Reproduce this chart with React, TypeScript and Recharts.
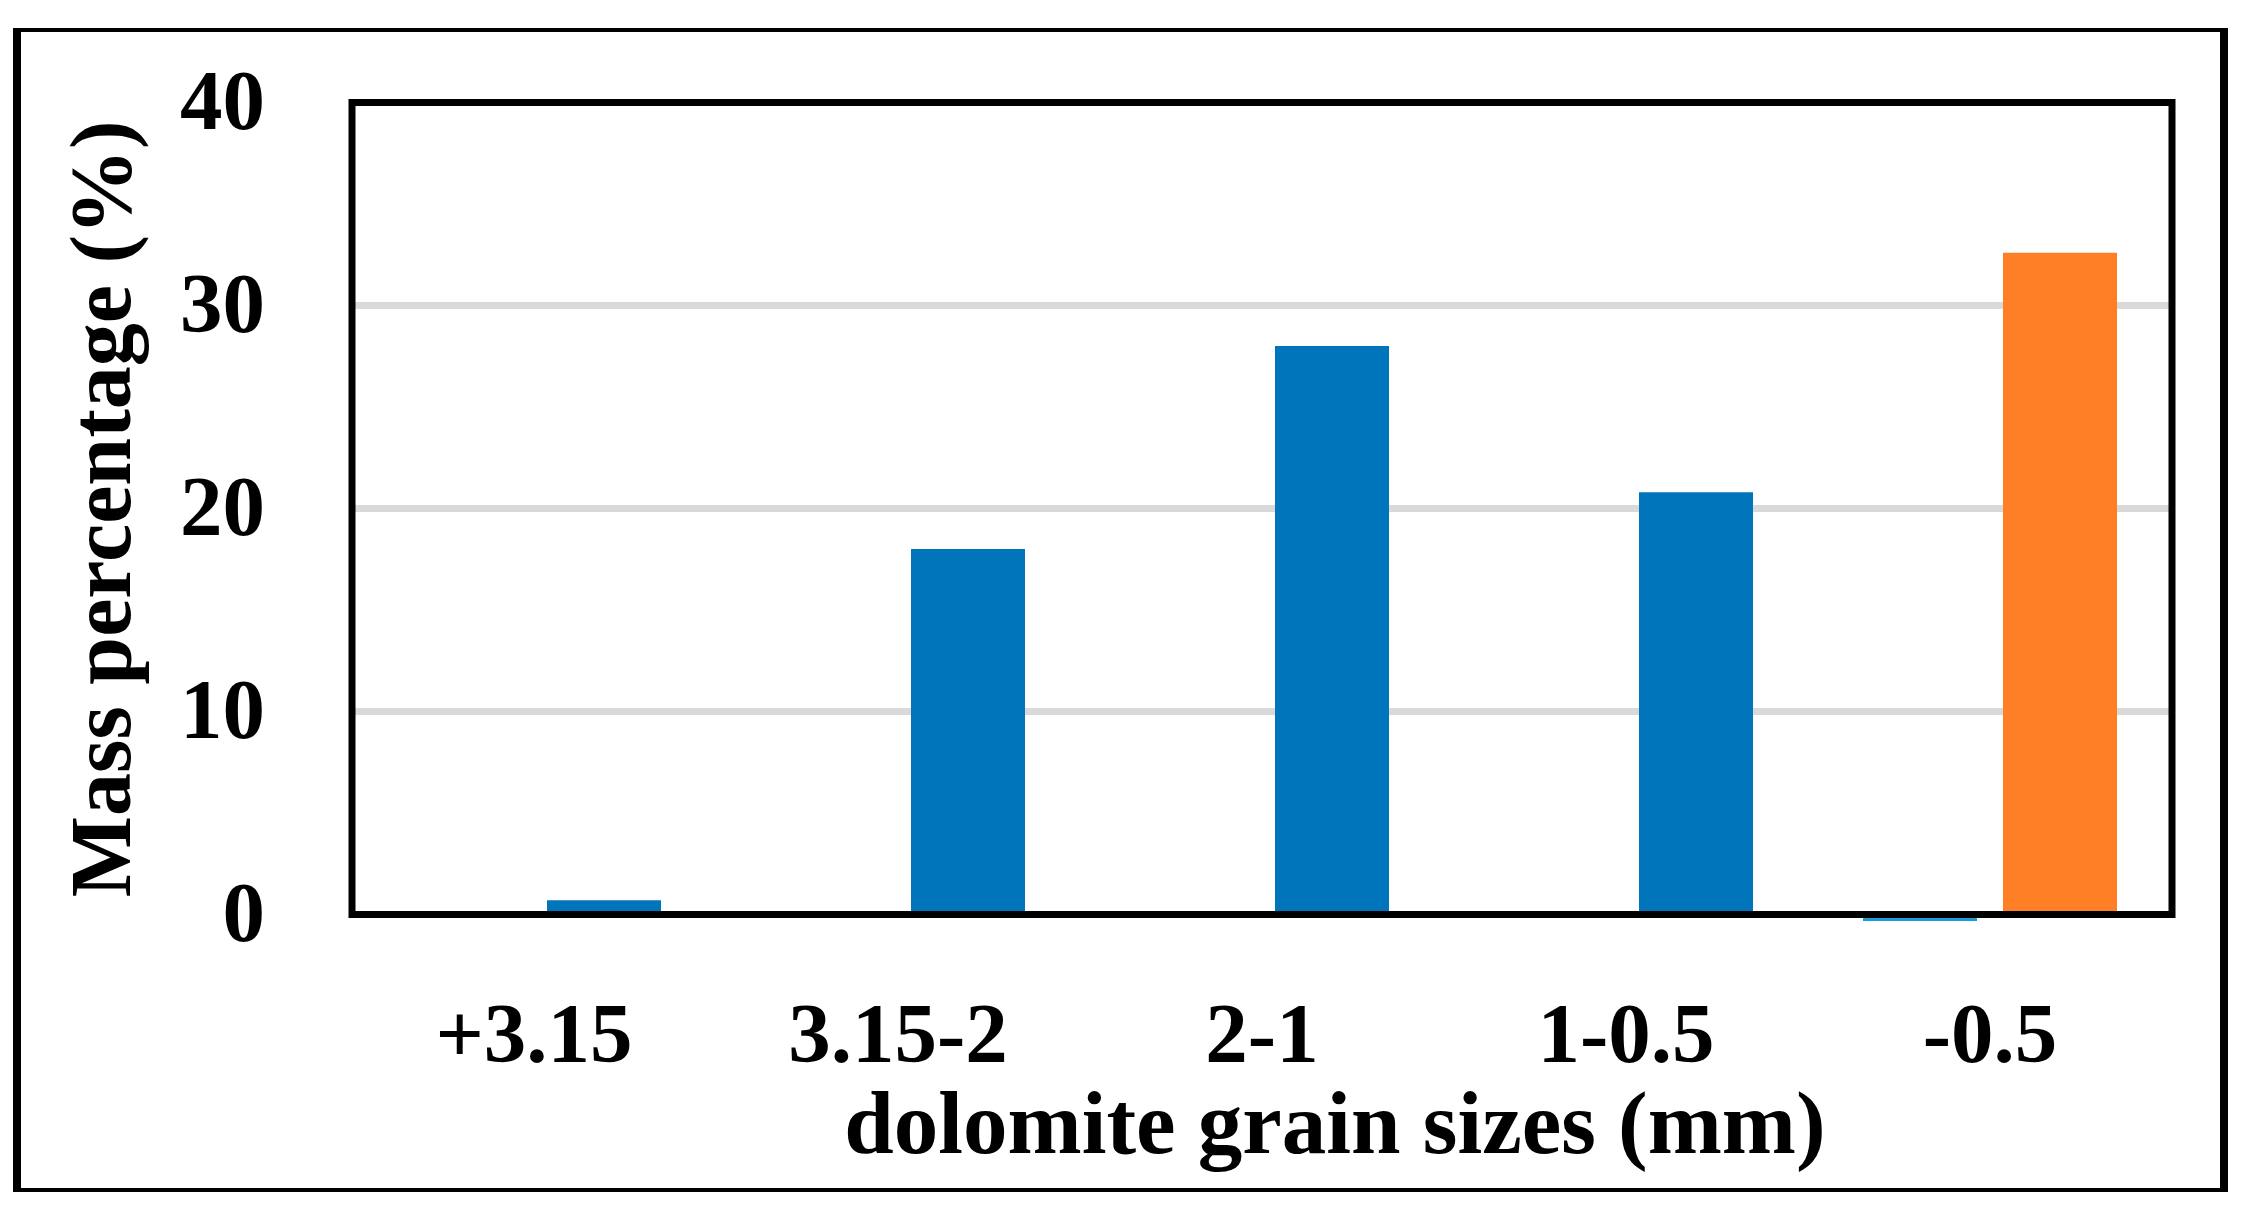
import React from 'react';
import { BarChart, Bar, XAxis, YAxis, CartesianGrid, Cell, ReferenceArea, Label } from 'recharts';

// ---- data ----
const categories = ['+3.15', '3.15-2', '2-1', '1-0.5', '-0.5'];
const seriesFine = [0, 0, 0, 0, -0.32];
const seriesMass = [0.7, 18.0, 28.0, 20.8, 32.6];
const yTicks = [0, 10, 20, 30, 40];
const gridValues = [10, 20, 30];
const xTitle = 'dolomite grain sizes (mm)';
const yTitle = 'Mass percentage (%)';
const highlightCategory = '-0.5';

const data = categories.map((c, i) => ({ category: c, fine: seriesFine[i], mass: seriesMass[i] }));

// ---- styles / layout ----
const W = 2246;
const H = 1215;
const FONT = '"Liberation Serif", "Times New Roman", serif';
const BLUE = '#0075BB';
const LIGHT_BLUE = '#1E9BD7';
const ORANGE = '#FF7F27';

const YTick = (props: any) => {
  const { x, y, payload } = props;
  return (
    <text x={x} y={y} dy={26} textAnchor="end" fontFamily={FONT} fontWeight="bold" fontSize={85} fill="#000">
      {payload.value}
    </text>
  );
};

const XTick = (props: any) => {
  const { x, y, payload } = props;
  return (
    <text x={x} y={y} textAnchor="middle" fontFamily={FONT} fontWeight="bold" fontSize={85} fill="#000">
      {payload.value}
    </text>
  );
};

const YTitle = (props: any) => {
  const vb = props.viewBox || {};
  const cx = 130;
  const cy = (vb.y ?? 102.5) + (vb.height ?? 818) / 2 - 3;
  return (
    <text
      x={cx}
      y={cy}
      textAnchor="middle"
      transform={`rotate(-90, ${cx}, ${cy})`}
      fontFamily={FONT}
      fontWeight="bold"
      fontSize={86}
      fill="#000"
    >
      {yTitle}
    </text>
  );
};

const XTitle = (props: any) => {
  const vb = props.viewBox || {};
  const cx = (vb.x ?? 352) + (vb.width ?? 1820) / 2 + 73;
  return (
    <text x={cx} y={1153} textAnchor="middle" fontFamily={FONT} fontWeight="bold" fontSize={89} fill="#000">
      {xTitle}
    </text>
  );
};

export default function App() {
  return (
    <div style={{ position: 'absolute', left: 0, top: 0, width: W, height: H, background: '#fff' }}>
      <div
        style={{
          position: 'absolute',
          left: 13,
          top: 28,
          width: 2215,
          height: 1164,
          boxSizing: 'border-box',
          borderLeft: '8px solid #000',
          borderRight: '8px solid #000',
          borderTop: '4px solid #000',
          borderBottom: '4px solid #000',
        }}
      />
      <div style={{ position: 'absolute', left: 0, top: 0 }}>
        <BarChart
          width={W}
          height={H}
          data={data}
          margin={{ top: 102.5, right: 74, bottom: 144, left: 152 }}
          barSize={114}
          barGap={26}
        >
          <CartesianGrid vertical={false} horizontalValues={gridValues} stroke="#D9D9D9" strokeWidth={7} />
          <XAxis
            dataKey="category"
            type="category"
            height={150}
            axisLine={false}
            tickLine={false}
            tickSize={0}
            tickMargin={141}
            tick={<XTick />}
            interval={0}
          >
            <Label content={<XTitle />} />
          </XAxis>
          <YAxis
            type="number"
            domain={['dataMin', 40]}
            ticks={yTicks}
            width={200}
            axisLine={false}
            tickLine={false}
            tickSize={0}
            tickMargin={87}
            tick={<YTick />}
          >
            <Label content={<YTitle />} />
          </YAxis>
          <Bar dataKey="fine" fill={LIGHT_BLUE} isAnimationActive={false} />
          <Bar dataKey="mass" fill={BLUE} isAnimationActive={false}>
            {data.map((d) => (
              <Cell key={d.category} fill={d.category === highlightCategory ? ORANGE : BLUE} />
            ))}
          </Bar>
          <ReferenceArea
            y1={0}
            y2={40}
            fill="none"
            fillOpacity={0}
            stroke="#000"
            strokeWidth={7}
            ifOverflow="visible"
            zIndex={1000}
          />
        </BarChart>
      </div>
    </div>
  );
}
